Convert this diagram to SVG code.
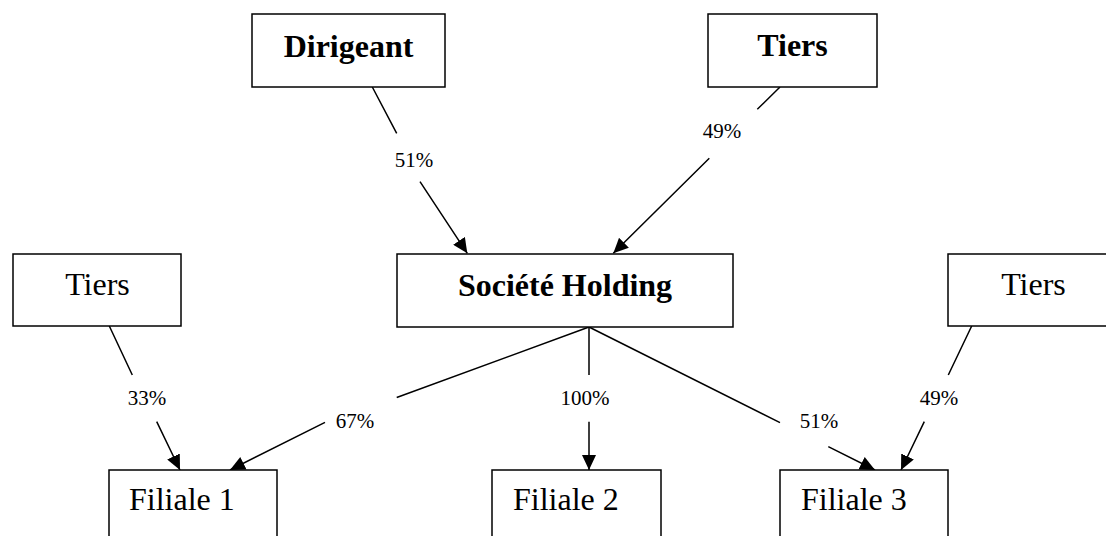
<svg xmlns="http://www.w3.org/2000/svg" width="1106" height="536" viewBox="0 0 1106 536">
  <style>
    .box { fill: #ffffff; stroke: #000000; stroke-width: 1.5; }
    .title { font-family: "Liberation Serif", "Times New Roman", serif; font-size: 32px; fill: #000000; }
    .bold { font-weight: bold; }
    .link { fill: none; stroke: #000000; stroke-width: 1.5; marker-end: url(#arrow); }
    .pct { font-family: "Liberation Serif", "Times New Roman", serif; font-size: 21px; fill: #000000; text-anchor: middle; }
  </style>
  <defs>
    <marker id="arrow" markerUnits="userSpaceOnUse" markerWidth="15" markerHeight="14" refX="15" refY="7" orient="auto">
      <path d="M0,0 L15,7 L0,14 z" fill="#000000"/>
    </marker>
  </defs>
  <rect width="1106" height="536" fill="#ffffff"/>

  <!-- ownership links, split around their percentage labels -->
  <g id="connectors">
    <g id="dirigeant-holding">
      <path class="link" d="M372.3,87 L396.7,133.3 M420,181.7 L467.3,253.3"/>
      <text class="pct" x="414" y="167">51%</text>
    </g>
    <g id="tiers-holding">
      <path class="link" d="M780,87 L757.3,109.3 M709.3,158.3 L613.3,253.3"/>
      <text class="pct" x="722" y="138">49%</text>
    </g>
    <g id="holding-filiale1">
      <path class="link" d="M589,327 L396.7,397.5 M325,422.3 L230,470"/>
      <text class="pct" x="355" y="428">67%</text>
    </g>
    <g id="holding-filiale2">
      <path class="link" d="M589,327 L589,375 M589,421.7 L589,470"/>
      <text class="pct" x="585" y="405">100%</text>
    </g>
    <g id="holding-filiale3">
      <path class="link" d="M589,327 L780,422.7 M828.3,446.7 L875,470"/>
      <text class="pct" x="819" y="428">51%</text>
    </g>
    <g id="tiers1-filiale1">
      <path class="link" d="M109.3,326 L132.3,375 M156.7,421.7 L180,470"/>
      <text class="pct" x="147" y="405">33%</text>
    </g>
    <g id="tiers3-filiale3">
      <path class="link" d="M971.7,326 L948.3,375 M924.3,421.7 L901,470"/>
      <text class="pct" x="939" y="405">49%</text>
    </g>
  </g>

  <g id="dirigeant">
    <rect class="box" x="252" y="14" width="193" height="73"/>
    <text class="title bold" x="348.5" y="57" text-anchor="middle">Dirigeant</text>
  </g>
  <g id="tiers-top">
    <rect class="box" x="708" y="14" width="169" height="73"/>
    <text class="title bold" x="792.5" y="56" text-anchor="middle">Tiers</text>
  </g>
  <g id="holding">
    <rect class="box" x="397" y="254" width="336" height="73"/>
    <text class="title bold" x="565" y="296" text-anchor="middle">Société Holding</text>
  </g>
  <g id="tiers-left">
    <rect class="box" x="13" y="254" width="168" height="72"/>
    <text class="title" x="97.5" y="295" text-anchor="middle">Tiers</text>
  </g>
  <g id="tiers-right">
    <rect class="box" x="948" y="254" width="170" height="72"/>
    <text class="title" x="1033.5" y="295" text-anchor="middle">Tiers</text>
  </g>
  <g id="filiale1">
    <rect class="box" x="109" y="470" width="168" height="80"/>
    <text class="title" x="129" y="510">Filiale 1</text>
  </g>
  <g id="filiale2">
    <rect class="box" x="492" y="470" width="169" height="80"/>
    <text class="title" x="513" y="510">Filiale 2</text>
  </g>
  <g id="filiale3">
    <rect class="box" x="780" y="470" width="168" height="80"/>
    <text class="title" x="801" y="510">Filiale 3</text>
  </g>
</svg>
